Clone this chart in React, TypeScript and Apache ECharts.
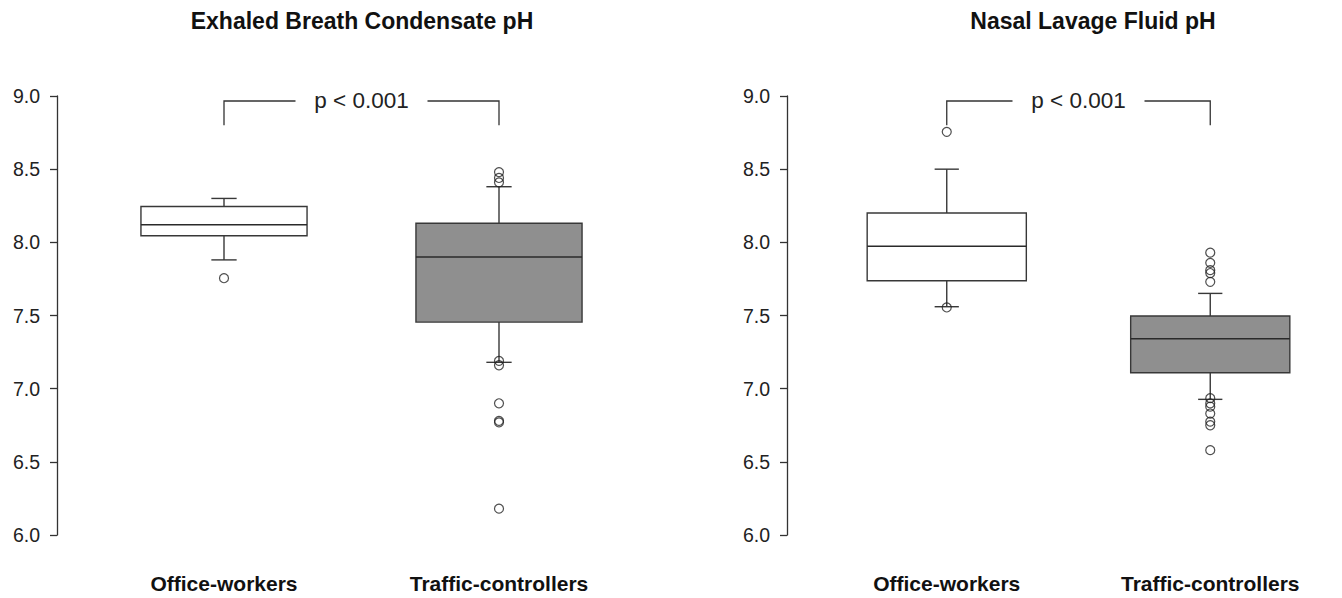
import React, { useEffect, useRef } from "react";
import * as echarts from "echarts";

// ---- data ----
const categories = ["Office-workers", "Traffic-controllers"];
const yTicks = [6.0, 6.5, 7.0, 7.5, 8.0, 8.5, 9.0];

// [min whisker, Q1, median, Q3, max whisker]
const ebcOffice = [7.88, 8.045, 8.12, 8.245, 8.3];
const ebcTraffic = [7.18, 7.455, 7.9, 8.13, 8.38];
const ebcOfficeOutliers = [7.755];
const ebcTrafficOutliers = [8.48, 8.44, 8.41, 7.19, 7.16, 6.9, 6.78, 6.77, 6.18];

const nlfOffice = [7.56, 7.737, 7.973, 8.2, 8.5];
const nlfTraffic = [6.927, 7.109, 7.341, 7.497, 7.651];
const nlfOfficeOutliers = [8.755, 7.555];
const nlfTrafficOutliers = [7.93, 7.86, 7.81, 7.79, 7.73, 6.935, 6.9, 6.877, 6.83, 6.775, 6.75, 6.58];

const titles = ["Exhaled Breath Condensate pH", "Nasal Lavage Fluid pH"];
const pLabel = "p < 0.001";
const bracketRange = [8.8, 8.966]; // bottom, top of bracket

// ---- styles ----
const FONT = "'Liberation Sans', Arial, Helvetica, sans-serif";
const boxFills = ["#ffffff", "#8f8f8f"];
const STROKE = "#383838";

function boxRender(params: any, api: any) {
  const x = api.value(0);
  const lo = api.coord([x, api.value(1)]);
  const q1 = api.coord([x, api.value(2)]);
  const med = api.coord([x, api.value(3)]);
  const q3 = api.coord([x, api.value(4)]);
  const hi = api.coord([x, api.value(5)]);
  const band = api.size([1, 0])[0];
  const cx = lo[0];
  const hw = band * 0.302;
  const sw = band * 0.046;
  const ls = { stroke: STROKE, lineWidth: 1.4 };
  return {
    type: "group",
    children: [
      { type: "line", shape: { x1: cx, y1: q1[1], x2: cx, y2: lo[1] }, style: ls },
      { type: "line", shape: { x1: cx, y1: q3[1], x2: cx, y2: hi[1] }, style: ls },
      { type: "line", shape: { x1: cx - sw, y1: lo[1], x2: cx + sw, y2: lo[1] }, style: ls },
      { type: "line", shape: { x1: cx - sw, y1: hi[1], x2: cx + sw, y2: hi[1] }, style: ls },
      {
        type: "rect",
        shape: { x: cx - hw, y: q3[1], width: hw * 2, height: q1[1] - q3[1] },
        style: { fill: boxFills[x] || "#fff", stroke: STROKE, lineWidth: 1.4 },
      },
      { type: "line", shape: { x1: cx - hw, y1: med[1], x2: cx + hw, y2: med[1] }, style: { stroke: "#2a2a2a", lineWidth: 1.5 } },
    ],
  };
}

function bracketRender(params: any, api: any) {
  const bottom = api.value(1);
  const top = api.value(2);
  const a0 = api.coord([0, bottom]);
  const a1 = api.coord([0, top]);
  const b0 = api.coord([1, bottom]);
  const b1 = api.coord([1, top]);
  const mid = (a1[0] + b1[0]) / 2;
  const gap = 66;
  const ls = { stroke: "#333", lineWidth: 1.3 };
  return {
    type: "group",
    children: [
      { type: "polyline", shape: { points: [a0, a1, [mid - gap, a1[1]]] }, style: { ...ls, fill: "none" } },
      { type: "polyline", shape: { points: [[mid + gap, b1[1]], b1, b0] }, style: { ...ls, fill: "none" } },
      {
        type: "text",
        x: mid,
        y: a1[1],
        style: {
          text: pLabel,
          fontSize: 22.5,
          fontFamily: FONT,
          fill: "#222",
          align: "center",
          verticalAlign: "middle",
        },
      },
    ],
  };
}

function outlierData(office: number[], traffic: number[]) {
  return [...office.map((v) => [0, v]), ...traffic.map((v) => [1, v])];
}

export default function App() {
  const ref = useRef<HTMLDivElement>(null);
  useEffect(() => {
    if (!ref.current) return;
    const chart = echarts.init(ref.current, null, { renderer: "svg" });
    const grids = [
      { left: 86.5, top: 96, width: 550, height: 439 },
      { left: 815, top: 96, width: 552, height: 439 },
    ];
    const offsets = [29.5, 28];
    const xAxes = grids.map((_, i) => ({
      type: "category",
      gridIndex: i,
      data: categories,
      boundaryGap: true,
      axisLine: { show: false },
      axisTick: { show: false },
      axisLabel: {
        margin: 38,
        fontSize: 21,
        fontWeight: "bold",
        fontFamily: FONT,
        color: "#111",
      },
    }));
    const yAxes = grids.map((_, i) => ({
      type: "value",
      gridIndex: i,
      min: yTicks[0],
      max: yTicks[yTicks.length - 1],
      interval: 0.5,
      offset: offsets[i],
      splitLine: { show: false },
      axisLine: { show: true, lineStyle: { color: "#333", width: 1.3 } },
      axisTick: { show: true, length: 7, lineStyle: { color: "#333", width: 1.3 } },
      axisLabel: {
        margin: 17,
        fontSize: 19.5,
        fontFamily: FONT,
        color: "#222",
        formatter: (v: number) => v.toFixed(1),
      },
    }));
    const boxSets = [
      [ebcOffice, ebcTraffic],
      [nlfOffice, nlfTraffic],
    ];
    const outSets = [
      outlierData(ebcOfficeOutliers, ebcTrafficOutliers),
      outlierData(nlfOfficeOutliers, nlfTrafficOutliers),
    ];
    const series: any[] = [];
    for (let i = 0; i < 2; i++) {
      series.push({
        type: "custom",
        xAxisIndex: i,
        yAxisIndex: i,
        renderItem: boxRender,
        encode: { x: 0, y: [1, 2, 3, 4, 5] },
        data: boxSets[i].map((b, k) => [k, ...b]),
        z: 2,
      });
      series.push({
        type: "scatter",
        xAxisIndex: i,
        yAxisIndex: i,
        symbol: "circle",
        symbolSize: 9,
        itemStyle: { color: "rgba(0,0,0,0)", borderColor: "#222", borderWidth: 1.2 },
        data: outSets[i],
        z: 4,
      });
      series.push({
        type: "custom",
        xAxisIndex: i,
        yAxisIndex: i,
        renderItem: bracketRender,
        encode: { x: 0, y: [1, 2] },
        data: [[0, bracketRange[0], bracketRange[1]]],
        z: 3,
      });
    }
    const titleX = [362, 1093];
    chart.setOption({
      animation: false,
      backgroundColor: "#ffffff",
      grid: grids,
      xAxis: xAxes,
      yAxis: yAxes,
      series,
      graphic: titles.map((t, i) => ({
        type: "text",
        x: titleX[i],
        y: 21,
        style: {
          text: t,
          fontSize: 23,
          fontWeight: "bold",
          fontFamily: FONT,
          fill: "#111",
          align: "center",
          verticalAlign: "middle",
        },
      })),
    });
    return () => chart.dispose();
  }, []);
  return (
    <div
      ref={ref}
      style={{ position: "fixed", left: 0, top: 0, width: 1342, height: 598, background: "#fff" }}
    />
  );
}
